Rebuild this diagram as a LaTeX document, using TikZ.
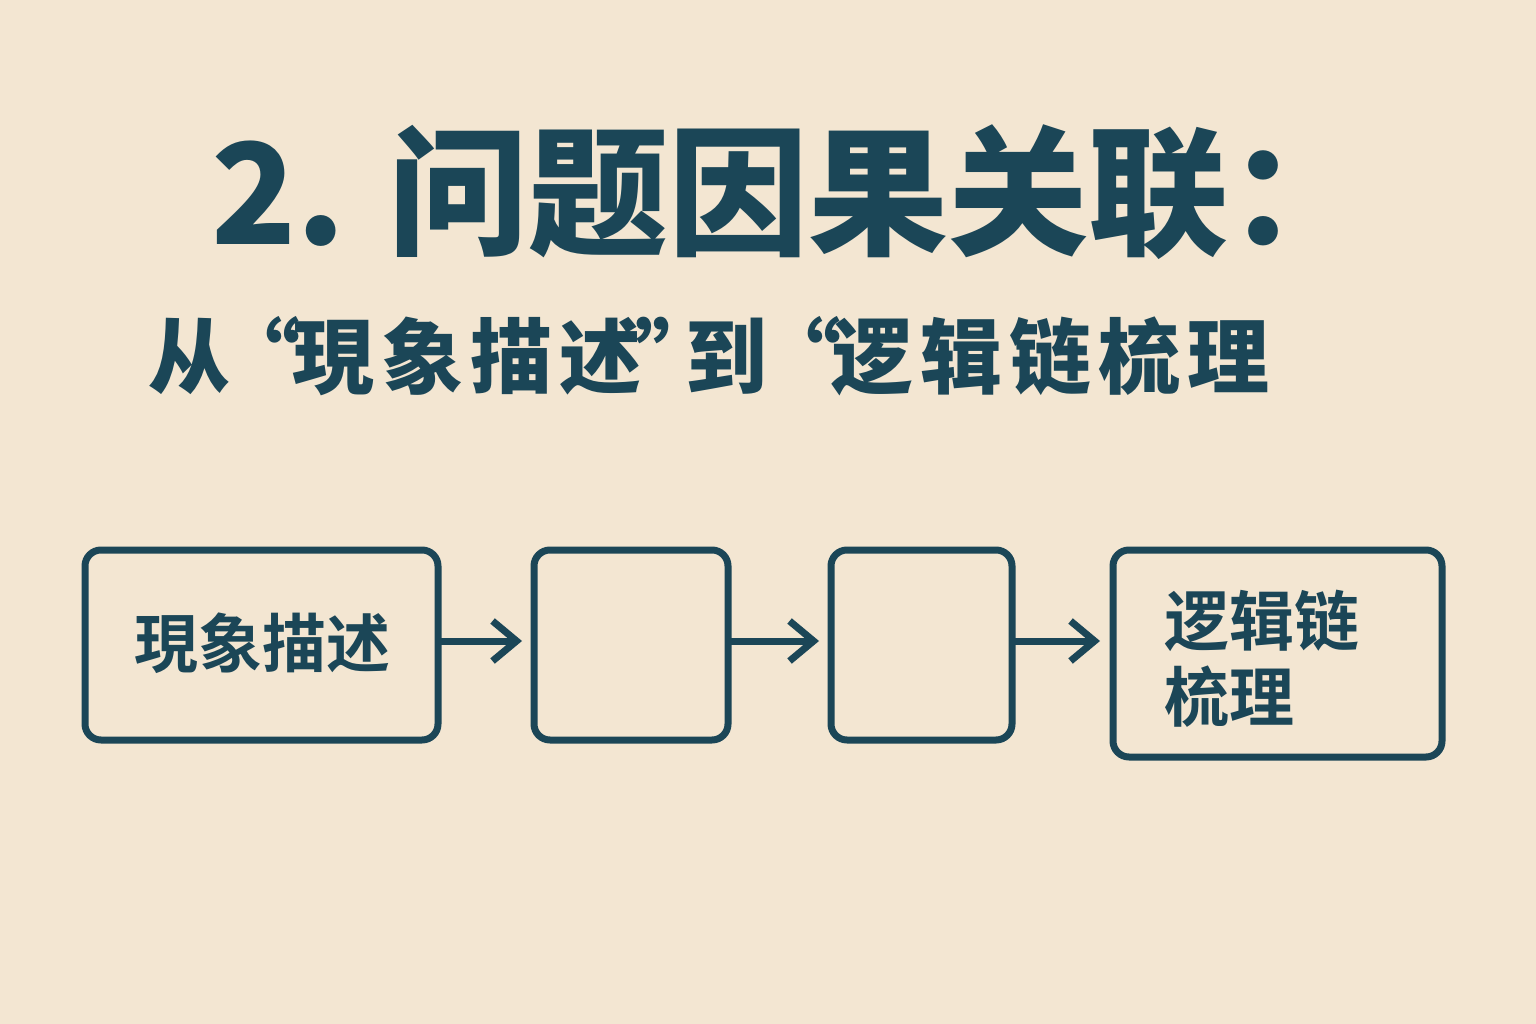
\documentclass[tikz,border=0pt]{standalone}
\usepackage{fontspec}
\newfontfamily\cjk{Noto Sans CJK SC}[BoldFont={* Bold}]
\newfontfamily\cjkblack{Noto Sans CJK SC Black}
\usetikzlibrary{arrows.meta}
\definecolor{bg}{HTML}{F3E6D2}
\definecolor{ink}{HTML}{1B4657}
\tikzset{
  stagebox/.style={draw=ink, line width=7pt, rounded corners=16pt, fill=none},
  flowarrow/.style={draw=ink, line width=7pt, -{Straight Barb[length=24pt,width=40pt,line width=7pt]}},
  lbl/.style={text=ink, inner sep=0pt, font=\cjk\bfseries}
}
\begin{document}
\begin{tikzpicture}[x=1pt,y=-1pt]
\fill[bg] (0,0) rectangle (1536,1024);
\useasboundingbox (0,0) rectangle (1536,1024);
% title
\node[lbl, font=\cjkblack\fontsize{140}{150}\selectfont, anchor=center] (title) at (790,192) {2. 问题因果关联：};
\node[lbl, font=\cjkblack\fontsize{82}{90}\selectfont, anchor=west] (subtitle) at (148,356) {从\kern-12pt“\kern-8pt現\kern7pt象\kern7pt描\kern7pt述\kern-6pt”\kern-32pt到\kern-8pt“\kern-10pt逻\kern7pt辑\kern7pt链\kern7pt梳\kern7pt理};
% boxes
\draw[stagebox] (85,550) rectangle (438,740);
\coordinate (b1e) at (438,641);
\draw[stagebox] (534,550) rectangle (728,740);
\coordinate (b2w) at (534,641);
\coordinate (b2e) at (728,641);
\draw[stagebox] (831,550) rectangle (1012,740);
\coordinate (b3w) at (831,641);
\coordinate (b3e) at (1012,641);
\draw[stagebox] (1113,550) rectangle (1442,757);
\coordinate (b4w) at (1113,641);
\node[lbl, font=\cjk\bfseries\fontsize{64}{74}\selectfont] (t1) at (262,643) {現象描述};
\node[lbl, font=\cjk\bfseries\fontsize{65}{76}\selectfont, anchor=north west, align=left] (t4) at (1164,590) {逻辑链\\梳理};
% arrows
\draw[flowarrow] (b1e) -- ([xshift=-12pt]b2w);
\draw[flowarrow] (b2e) -- ([xshift=-12pt]b3w);
\draw[flowarrow] (b3e) -- ([xshift=-13pt]b4w);
\end{tikzpicture}
\end{document}
